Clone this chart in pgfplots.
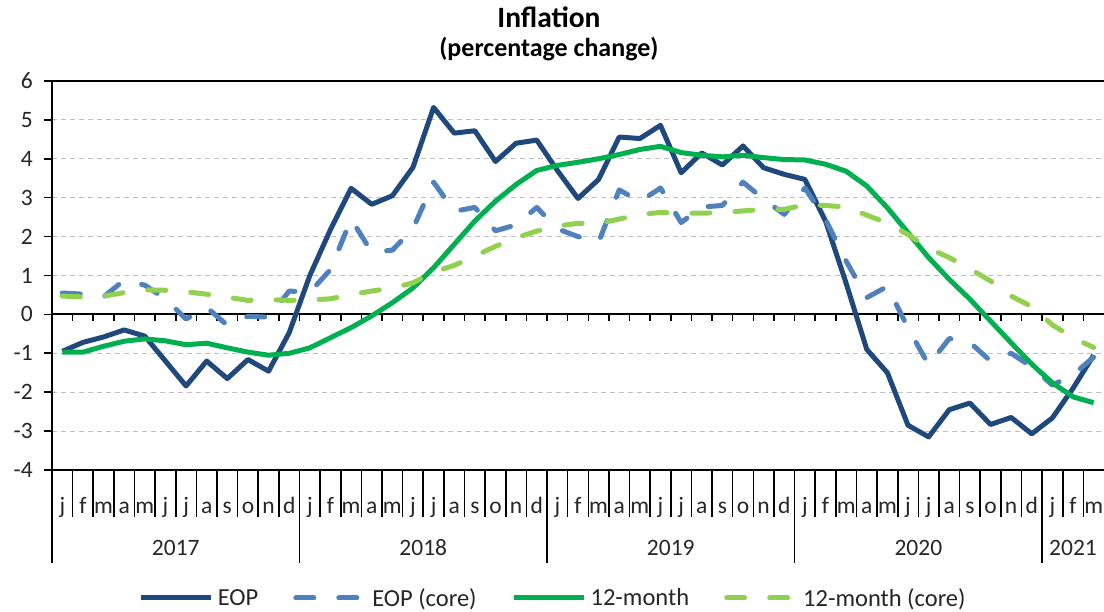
\documentclass[border=0pt]{standalone}
\usepackage{pgfplots}
\usepackage{pgfplotstable}
\pgfplotsset{compat=1.18}
\usepackage{fontspec}
\setmainfont{Carlito}
\definecolor{eop}{HTML}{1F497D}
\definecolor{eopcore}{HTML}{4F81BD}
\definecolor{twelve}{HTML}{00B050}
\definecolor{twelvecore}{HTML}{92D050}
\definecolor{gridgray}{HTML}{BFBFBF}

\pgfplotstableread{
i eop eopc m12 m12c
0 -0.95 0.55 -0.97 0.47
1 -0.72 0.52 -0.97 0.45
2 -0.58 0.45 -0.82 0.47
3 -0.40 0.88 -0.69 0.56
4 -0.56 0.75 -0.63 0.63
5 -1.20 0.40 -0.68 0.62
6 -1.84 -0.12 -0.78 0.58
7 -1.20 0.18 -0.74 0.52
8 -1.65 -0.28 -0.86 0.44
9 -1.16 -0.05 -0.97 0.36
10 -1.46 -0.07 -1.05 0.38
11 -0.47 0.60 -1.00 0.36
12 1.00 0.57 -0.86 0.37
13 2.18 1.15 -0.60 0.40
14 3.24 2.45 -0.34 0.51
15 2.83 1.60 -0.04 0.60
16 3.05 1.65 0.30 0.68
17 3.78 2.20 0.68 0.81
18 5.32 3.40 1.20 1.09
19 4.66 2.65 1.80 1.26
20 4.72 2.75 2.40 1.50
21 3.93 2.15 2.91 1.75
22 4.40 2.30 3.34 1.97
23 4.48 2.75 3.70 2.14
24 3.70 2.20 3.83 2.27
25 2.98 2.00 3.91 2.34
26 3.47 1.86 4.00 2.34
27 4.56 3.20 4.11 2.45
28 4.52 2.90 4.24 2.57
29 4.86 3.25 4.32 2.62
30 3.64 2.36 4.16 2.60
31 4.15 2.76 4.09 2.60
32 3.84 2.80 4.05 2.62
33 4.33 3.40 4.09 2.66
34 3.77 2.96 4.03 2.70
35 3.60 2.57 3.98 2.70
36 3.47 3.25 3.97 2.82
37 2.40 2.44 3.86 2.80
38 0.80 1.37 3.68 2.76
39 -0.90 0.43 3.30 2.55
40 -1.50 0.72 2.74 2.35
41 -2.85 -0.35 2.10 2.05
42 -3.15 -1.30 1.46 1.70
43 -2.45 -0.62 0.90 1.46
44 -2.28 -0.72 0.39 1.17
45 -2.83 -1.20 -0.17 0.86
46 -2.65 -1.00 -0.73 0.47
47 -3.07 -1.35 -1.28 0.20
48 -2.66 -1.82 -1.76 -0.27
49 -1.90 -1.55 -2.12 -0.60
50 -1.05 -1.10 -2.27 -0.85
}\data

\begin{document}
\begin{tikzpicture}[x=1pt,y=1pt]
\useasboundingbox (-52,-142) rectangle (1052,470);
\begin{axis}[
  at={(0,0)}, anchor=south west,
  scale only axis, width=1052pt, height=389pt,
  xmin=-0.5, xmax=50.5, ymin=-4, ymax=6,
  clip=false,
  axis line style={draw=none},
  ytick={-4,...,6},
  yticklabels={-4,-3,-2,-1,0,1,2,3,4,5,6},
  ytick pos=left,
  tick align=outside,
  major tick length=8pt,
  ytick style={black, line width=1.6pt},
  yticklabel style={anchor=east, inner sep=0pt, xshift=-11pt},
  xtick={0,...,50},
  xticklabels={j,f,m,a,m,j,j,a,s,o,n,d,j,f,m,a,m,j,j,a,s,o,n,d,j,f,m,a,m,j,j,a,s,o,n,d,j,f,m,a,m,j,j,a,s,o,n,d,j,f,m},
  xtick style={draw=none},
  xticklabel style={anchor=base, inner sep=0pt, yshift=-36pt},
  ticklabel style={font=\fontsize{23.5}{27}\selectfont, text=black!85},
  ymajorgrids,
  grid style={gridgray, dash pattern=on 5pt off 4pt, line width=1.1pt},
  legend columns=4,
  legend style={at={(0.476,-0.329)}, anchor=center, draw=none, fill=none,
    font=\fontsize{24.5}{28}\selectfont, text=black!85,
    nodes={inner sep=1pt},
    /tikz/every odd column/.append style={column sep=3pt},
    /tikz/every even column/.append style={column sep=34pt}},
  legend image code/.code={\draw[#1] (0pt,0pt) -- (70pt,0pt);},
]
% frame and zero line
\draw[black, line width=2pt] (rel axis cs:0,1) -- (rel axis cs:1,1);
\draw[black, line width=2pt] (rel axis cs:0,0) -- (rel axis cs:1,0);
\draw[black, line width=2pt] (rel axis cs:0,0) -- (rel axis cs:0,1);
\draw[black, line width=2pt] (axis cs:-0.5,0) -- (axis cs:50.5,0);
\pgfplotsinvokeforeach{0,...,49}{
  \draw[black, line width=1.6pt] (axis cs:#1+0.5,0) -- ++(0pt,-7pt);
}
% month separators
\pgfplotsinvokeforeach{0,...,49}{
  \draw[black, line width=1.6pt] (axis cs:#1+0.5,-4) -- ++(0pt,-47pt);
}
% year separators
\pgfplotsinvokeforeach{-0.5,11.5,23.5,35.5,47.5}{
  \draw[black, line width=1.8pt] (axis cs:#1,-4) -- ++(0pt,-93pt);
}
\node[anchor=base, inner sep=0pt, font=\fontsize{23.5}{27}\selectfont, text=black!85] at ([yshift=-86pt]axis cs:5.5,-4) {2017};
\node[anchor=base, inner sep=0pt, font=\fontsize{23.5}{27}\selectfont, text=black!85] at ([yshift=-86pt]axis cs:17.5,-4) {2018};
\node[anchor=base, inner sep=0pt, font=\fontsize{23.5}{27}\selectfont, text=black!85] at ([yshift=-86pt]axis cs:29.5,-4) {2019};
\node[anchor=base, inner sep=0pt, font=\fontsize{23.5}{27}\selectfont, text=black!85] at ([yshift=-86pt]axis cs:41.5,-4) {2020};
\node[anchor=base, inner sep=0pt, font=\fontsize{23.5}{27}\selectfont, text=black!85] at ([yshift=-86pt]axis cs:49,-4) {2021};
% titles
\node[anchor=base, inner sep=0pt, font=\bfseries\fontsize{29.5}{34}\selectfont] at ([yshift=53pt]rel axis cs:0.4724,1) {Inflation};
\node[anchor=base, inner sep=0pt, font=\bfseries\fontsize{26}{30}\selectfont] at ([yshift=24pt]rel axis cs:0.4724,1) {(percentage change)};

\addplot[eop, line width=5pt, line join=round] table[x=i, y=eop] {\data};
\addlegendentry{EOP}
\addplot[eopcore, line width=5pt, line join=round, line cap=round, dash pattern=on 18pt off 25pt] table[x=i, y=eopc] {\data};
\addlegendentry{EOP (core)}
\addplot[twelve, line width=5pt, line join=round] table[x=i, y=m12] {\data};
\addlegendentry{12-month}
\addplot[twelvecore, line width=5pt, line join=round, line cap=round, dash pattern=on 18pt off 25pt] table[x=i, y=m12c] {\data};
\addlegendentry{12-month (core)}
\end{axis}
\end{tikzpicture}
\end{document}
